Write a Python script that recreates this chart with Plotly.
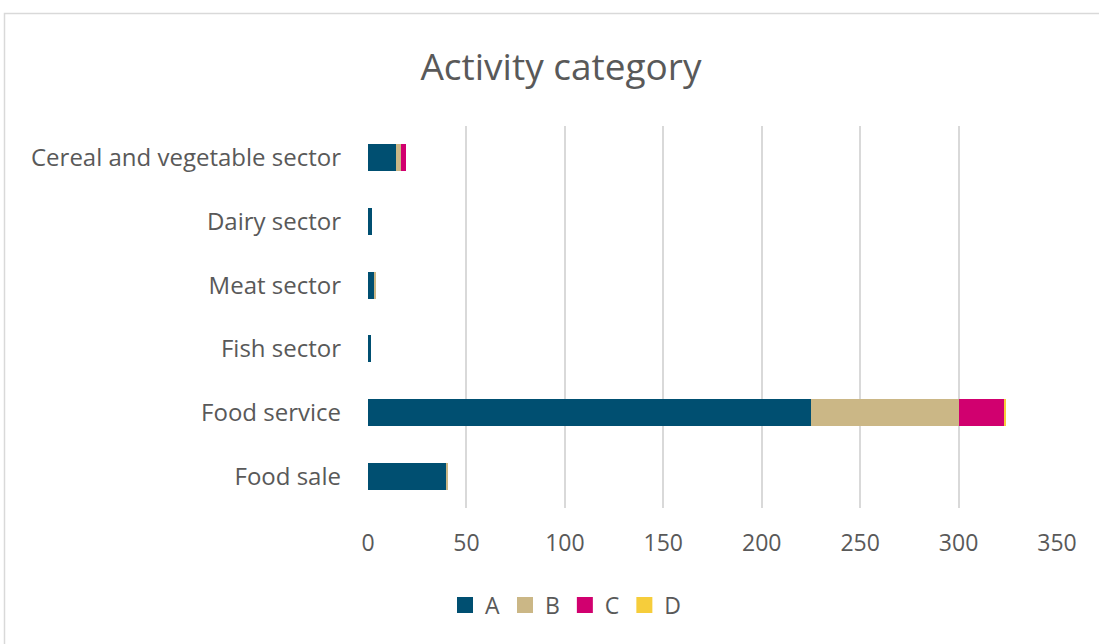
import plotly.graph_objects as go

# Activity categories (top to bottom) and counts per class
categories = ["Cereal and vegetable sector", "Dairy sector", "Meat sector",
              "Fish sector", "Food service", "Food sale"]
series_names = ["A", "B", "C", "D"]
values_a = [14, 2, 3.5, 1.5, 225, 40]
values_b = [3, 0, 0.3, 0, 75, 0.4]
values_c = [2.5, 0, 0, 0, 23.5, 0]
values_d = [0, 0, 0, 0, 0.8, 0]
x_ticks = [0, 50, 100, 150, 200, 250, 300, 350]

colors = ["#004F71", "#CBB786", "#D1006F", "#F6CD3B"]

W, H = 1099, 644
ml, mr, mt, mb = 368, 42, 126, 136

fig = go.Figure()
for name, vals, col in zip(series_names, [values_a, values_b, values_c, values_d], colors):
    fig.add_trace(go.Bar(
        y=categories, x=vals, name=name, orientation="h",
        marker=dict(color=col, line=dict(width=0)), showlegend=False,
    ))

# legend entries with larger square swatches
for name, col in zip(series_names, colors):
    fig.add_trace(go.Scatter(
        x=[None], y=[None], name=name, mode="markers",
        marker=dict(symbol="square", size=16, color=col),
    ))

# chart-area frame (light grey border)
pw, ph = W - ml - mr, H - mt - mb
def px_x(p):
    return (p - ml) / pw
def px_y(p):
    return (H - mb - p) / ph

fig.add_shape(type="rect", xref="paper", yref="paper",
              x0=px_x(4.5), x1=px_x(W + 10), y0=px_y(H + 10), y1=px_y(13.5),
              line=dict(color="#D9D9D9", width=1.5), fillcolor="rgba(0,0,0,0)",
              layer="below")

fig.update_layout(
    width=W, height=H,
    margin=dict(l=ml, r=mr, t=mt, b=mb),
    paper_bgcolor="white", plot_bgcolor="white",
    barmode="stack", bargap=0.58,
    font=dict(family="Open Sans, Liberation Sans, sans-serif", color="#595959", size=23),
    title=dict(text="Activity category", x=561 / W, xref="container", xanchor="center",
               y=1 - 67 / H, yanchor="middle",
               font=dict(size=37, color="#595959")),
    xaxis=dict(range=[0, 350], tickvals=x_ticks, showgrid=True, gridcolor="#D9D9D9",
               gridwidth=2, zeroline=False, showline=False, ticks="",
               ticklabelstandoff=19, tickfont=dict(size=23)),
    yaxis=dict(autorange="reversed", showgrid=False, showline=False, ticks="",
               ticklabelstandoff=26, tickfont=dict(size=24)),
    legend=dict(orientation="h", x=566 / W, xanchor="center", xref="container",
                y=1 - 605 / H, yref="container", yanchor="middle",
                font=dict(size=23), itemwidth=30, traceorder="normal"),
)

fig.write_html("out.html")
